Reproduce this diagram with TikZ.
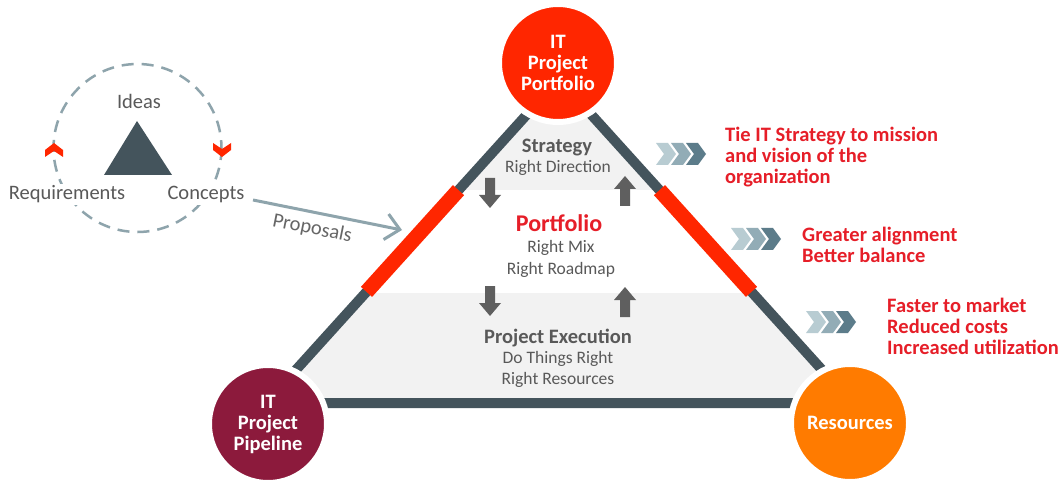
\documentclass[tikz,border=0pt]{standalone}
\usepackage{fontspec}
\setmainfont{Carlito}
\usetikzlibrary{arrows.meta,calc}
\definecolor{slate}{HTML}{44545C}
\definecolor{ptred}{HTML}{FF2600}
\definecolor{pipe}{HTML}{8C1A3C}
\definecolor{resor}{HTML}{FF7B00}
\definecolor{txtred}{HTML}{E61E28}
\definecolor{txtgray}{HTML}{595959}
\definecolor{proptxt}{HTML}{666666}
\definecolor{arrgray}{HTML}{5F5F5F}
\definecolor{band}{HTML}{F2F2F2}
\definecolor{dashc}{HTML}{8EA4AC}
\definecolor{chA}{HTML}{B8CCD2}
\definecolor{chB}{HTML}{92ACB6}
\definecolor{chC}{HTML}{5C7C8A}
\newcommand\fsz[2]{\fontsize{#1}{#2}\selectfont}
\begin{document}
\begin{tikzpicture}[x=1pt,y=-1pt,
  hub/.style={circle, minimum size=118pt, inner sep=0pt, draw=white, line width=6pt,
    text=white, font=\fsz{20.5}{21}\bfseries, align=center},
  edge/.style={slate, line width=10pt},
  redseg/.style={ptred, line width=15pt},
  head/.style={txtgray, font=\fsz{20.5}{21}\bfseries, anchor=base, inner sep=0pt},
  sub/.style={txtgray, font=\fsz{17.5}{21}, anchor=base, inner sep=0pt},
  benefit/.style={txtred, font=\fsz{20.5}{21}\bfseries, anchor=base west, align=left, inner sep=0pt},
  cyclelabel/.style={txtgray, font=\fsz{20.5}{21}, anchor=base, fill=white, inner sep=2pt},
  chevrons/.pic={
    \fill[chA] (0,0) -- ++(12,0) -- ++(8,11) -- ++(-8,11) -- ++(-12,0) -- ++(8,-11) -- cycle;
    \fill[chB] (15,0) -- ++(12,0) -- ++(8,11) -- ++(-8,11) -- ++(-12,0) -- ++(8,-11) -- cycle;
    \fill[chC] (30,0) -- ++(12,0) -- ++(8,11) -- ++(-8,11) -- ++(-12,0) -- ++(8,-11) -- cycle;
  },
  downarrow/.pic={\fill[arrgray] (-5,0) -- (5,0) -- (5,17) -- (11,17) -- (0,30) -- (-11,17) -- (-5,17) -- cycle;},
  uparrow/.pic={\fill[arrgray] (-5,30) -- (5,30) -- (5,13) -- (11,13) -- (0,0) -- (-11,13) -- (-5,13) -- cycle;},
  redup/.pic={\fill[ptred] (0,-7) -- (9,0) -- (9,7) -- (0,1) -- (-9,7) -- (-9,0) -- cycle;},
  reddown/.pic={\fill[ptred] (0,7) -- (9,0) -- (9,-7) -- (0,-1) -- (-9,-7) -- (-9,0) -- cycle;}
]
\useasboundingbox (0,0) rectangle (1063,481);
\fill[white] (0,0) rectangle (1063,481);

% ---- idea cycle ----
\draw[dashc, line width=2.5pt, dash pattern=on 12pt off 8pt] (137.5,148) circle[radius=84];
\fill[slate] (137,121) -- (104,175) -- (172,175) -- cycle;
\node[cyclelabel] (ideas) at (139,109) {Ideas};
\node[cyclelabel] (req) at (67,200) {Requirements};
\node[cyclelabel] (concepts) at (206,200) {Concepts};
\pic at (54,150) {redup};
\pic at (222,150) {reddown};

% ---- triangle ----
\coordinate (apex) at (559,79);
\coordinate (bl) at (266,403);
\coordinate (br) at (852,403);
\begin{scope}
  \clip (apex) -- (bl) -- (br) -- cycle;
  \fill[band] (250,60) rectangle (870,190);
  \fill[band] (250,293) rectangle (870,410);
\end{scope}
\draw[edge] (apex) -- (bl) -- (br) -- cycle;
\draw[redseg] ($(apex)!0.343!(bl)$) -- ($(apex)!0.657!(bl)$);
\draw[redseg] ($(apex)!0.343!(br)$) -- ($(apex)!0.657!(br)$);

% ---- proposals ----
\coordinate (propstart) at (253,200);
\coordinate (propend) at (402,230);
\draw[dashc, line width=3pt, -{Straight Barb[length=14pt,width=26pt]}] (propstart) --
  node[sloped, below=3pt, pos=0.42, text=proptxt, font=\fsz{20.5}{21}] (proplabel) {Proposals} (propend);

% ---- block arrows ----
\pic at (490,178) {downarrow};
\pic at (625,176) {uparrow};
\pic at (490,286) {downarrow};
\pic at (625,287) {uparrow};

% ---- level texts ----
\node[head] (strategy) at (557,153) {Strategy};
\node[sub] (strat1) at (558,173) {Right Direction};
\node[head, text=txtred, font=\fsz{24}{26}\bfseries] (portf) at (559,232) {Portfolio};
\node[sub] (mix) at (561,253) {Right Mix};
\node[sub] (roadmap) at (561,274) {Right Roadmap};
\node[head] (exec) at (558,343) {Project Execution};
\node[sub] (dothings) at (558,363) {Do Things Right};
\node[sub] (rres) at (558,384) {Right Resources};

% ---- hubs ----
\node[hub, fill=ptred] (itpp) at (558,63) {IT\\Project\\Portfolio};
\node[hub, fill=pipe] (pipeline) at (268,424) {IT\\Project\\Pipeline};
\node[hub, fill=resor] (resources) at (850,423) {Resources};

% ---- benefits (base anchor = last line) ----
\pic at (656,143) {chevrons};
\pic at (731,228) {chevrons};
\pic at (806,311) {chevrons};
\node[benefit] (b1) at (725,184) {Tie IT Strategy to mission\\and vision of the\\organization};
\node[benefit] (b2) at (802,262) {Greater alignment\\Better balance};
\node[benefit] (b3) at (887,354) {Faster to market\\Reduced costs\\Increased utilization};
\end{tikzpicture}
\end{document}
